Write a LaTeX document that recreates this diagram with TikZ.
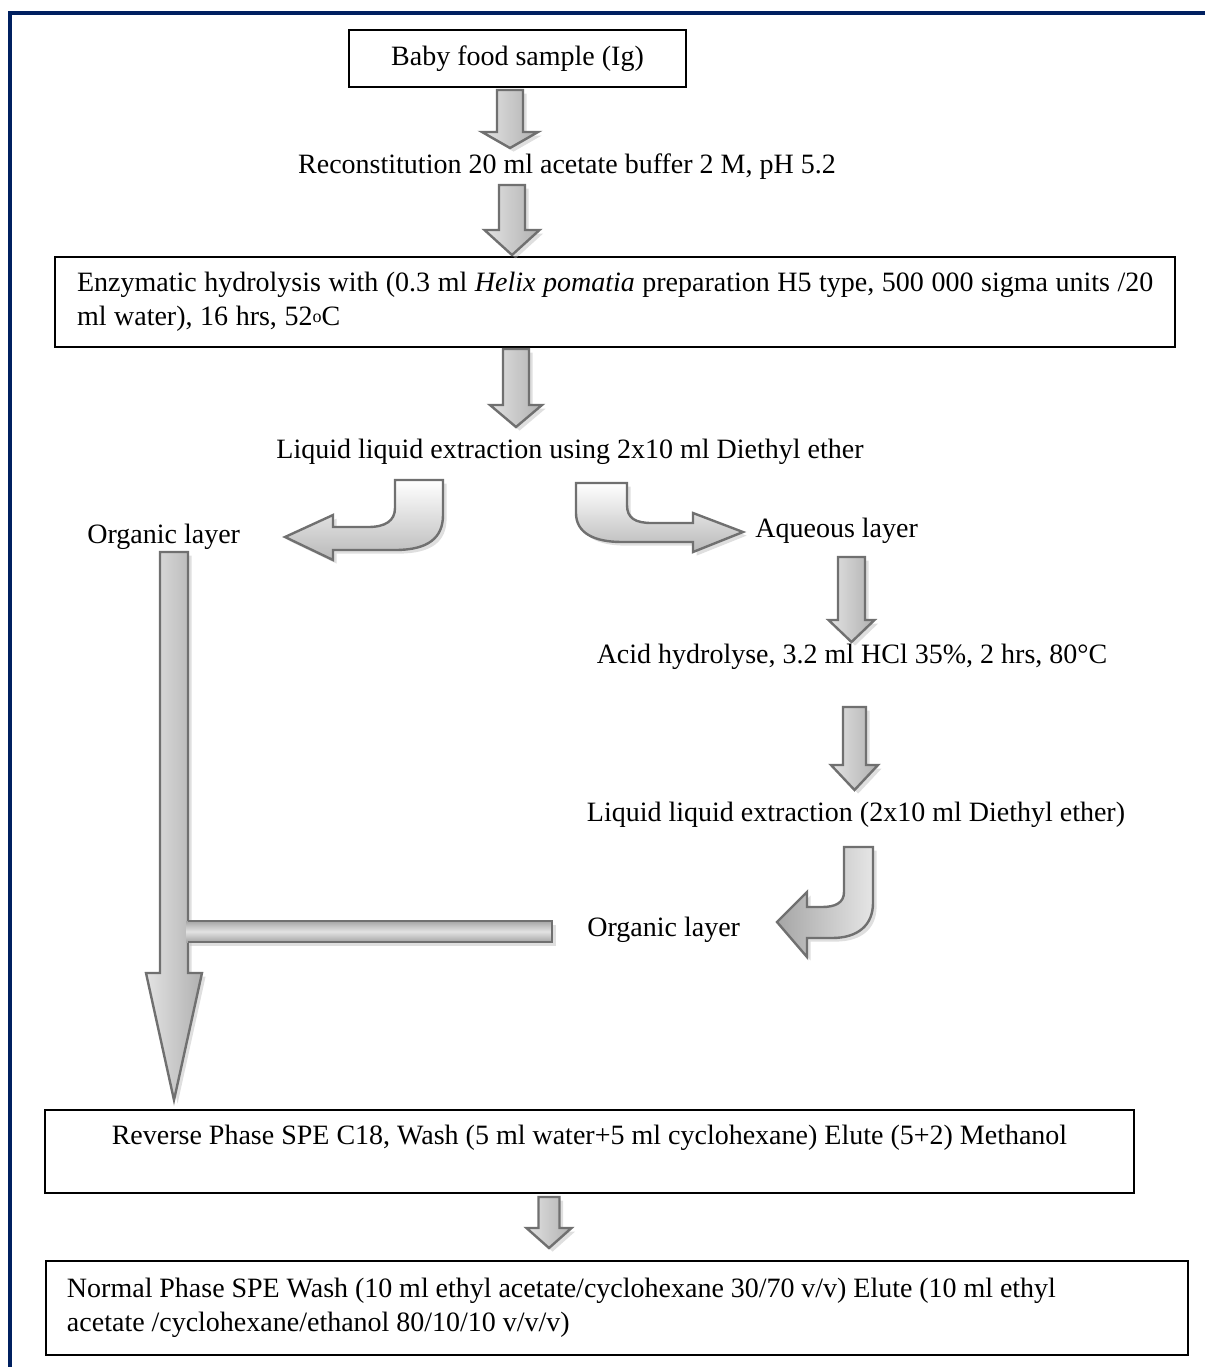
\documentclass[tikz,border=0pt]{standalone}
\usepackage{fontspec}
\setmainfont{Liberation Serif}
\usetikzlibrary{shadows}
\definecolor{framecol}{RGB}{0,32,96}
\definecolor{arrline}{RGB}{112,112,112}
\tikzset{
  boxnode/.style={draw=black, line width=1pt, rectangle, inner sep=0pt},
  lbl/.style={inner sep=0pt, font=\fontsize{14}{17}\selectfont},
  arrbase/.style={draw=arrline, line width=1.2pt, line join=miter,
    drop shadow={shadow xshift=1.8pt, shadow yshift=-1.8pt, fill=gray!55, opacity=0.45}},
  varr/.style={arrbase, left color=gray!22, right color=gray!62},
  harr/.style={arrbase, top color=gray!70, bottom color=gray!70, middle color=gray!22},
  carr/.style={arrbase, top color=white, bottom color=gray!55},
  carrdark/.style={arrbase, left color=gray!70, right color=gray!20},
  frameline/.style={draw=framecol, line width=1.6pt},
}
\newcommand\dnblock[6]{%
  \path[varr] ({#1-#5},#2) -- ({#1+#5},#2) -- ({#1+#5},#3) -- ({#1+#6},#3)
    -- (#1,#4) -- ({#1-#6},#3) -- ({#1-#5},#3) -- cycle;}
\begin{document}
\begin{tikzpicture}[x=0.5pt, y=-0.5pt]
\useasboundingbox (0,0) rectangle (1205,1367);
% frame
\draw[frameline] (10,1367) -- (10,13) -- (1205,13);

% boxes and labels
\node[boxnode, lbl, minimum width=168.5pt, minimum height=28.5pt] (baby) at (517.5,58.5) {Baby food sample (Ig)};
\node[lbl] (recon) at (567,167) {Reconstitution 20 ml acetate buffer 2 M, pH 5.2};
\node[boxnode, lbl, minimum width=560pt, minimum height=45pt, text width=538pt, inner xsep=11pt, align=left] (enz) at (615,302)
  {\spaceskip=0.27em plus 0.05em minus 0.02em
   \mbox{Enzymatic hydrolysis with (0.3 ml \textit{Helix pomatia} preparation H5 type, 500 000 sigma units /20}\\
   ml water), 16 hrs, 52\raisebox{0.12em}{\fontsize{9}{9}\selectfont o}C};
\node[lbl] (lle) at (570,452) {Liquid liquid extraction using 2x10 ml Diethyl ether};
\node[lbl, anchor=west] (org1) at (87,537) {Organic layer};
\node[lbl, anchor=west] (aq) at (755,531) {Aqueous layer};
\node[lbl] (acid) at (852,657) {Acid hydrolyse, 3.2 ml HCl 35\%, 2 hrs, 80°C};
\node[lbl] (lle2) at (856,815) {Liquid liquid extraction (2x10 ml Diethyl ether)};
\node[lbl, anchor=west] (org2) at (587,930) {Organic layer};
\node[boxnode, lbl, minimum width=544.5pt, minimum height=41.5pt, align=center] (rev) at (589.5,1151.5)
  {Reverse Phase SPE C18, Wash (5 ml water+5 ml cyclohexane) Elute (5+2) Methanol\\\mbox{}};
\node[boxnode, lbl, minimum width=571pt, minimum height=47pt, text width=550pt, inner xsep=10.5pt, align=left] (norm) at (617,1308)
  {\spaceskip=0.245em plus 0.05em minus 0.02em
   Normal Phase SPE Wash (10 ml ethyl acetate/cyclohexane 30/70 v/v) Elute (10 ml ethyl\\ acetate /cyclohexane/ethanol 80/10/10 v/v/v)};

% straight block arrows: cx, top, head base, tip, shaft half width, head half width
\dnblock{510}{90}{132}{148}{13}{28}
\dnblock{512}{185}{230}{255}{13}{27.5}
\dnblock{516}{349}{405}{427}{13}{26}
\dnblock{851.5}{557}{620}{642}{13.5}{23}
\dnblock{854.5}{707}{765}{790}{11.5}{23.5}
\dnblock{549}{1197}{1228}{1248}{10.5}{22.5}

% long arrow to reverse phase box with side bar
\dnblock{174}{552}{973}{1100}{14}{28}
\path[harr, draw=none] (186,921) rectangle (552,942);
\draw[arrline, line width=1.2pt] (188,921) -- (552,921) -- (552,942) -- (188,942);

% curved arrows
\path[carr] (443,480) -- (395,480) -- (395,508) .. controls (395,521) and (385,527) .. (368,527)
  -- (333,527) -- (333,515) -- (285,537) -- (333,560) -- (333,550) -- (395,550)
  .. controls (428,550) and (443,538) .. (443,515) -- cycle;
\path[carr] (576,483) -- (627,483) -- (627,505) .. controls (627,518) and (635,523) .. (652,523)
  -- (693,523) -- (693,513) -- (743,532) -- (693,552) -- (693,542) -- (622,542)
  .. controls (594,542) and (576,533) .. (576,513) -- cycle;
\path[carrdark] (873,847) -- (844,847) -- (844,892) .. controls (844,903) and (835,907) .. (822,907)
  -- (807,907) -- (807,892) -- (777,922) -- (807,957) -- (807,938) -- (832,938)
  .. controls (858,938) and (873,925) .. (873,903) -- cycle;
\end{tikzpicture}
\end{document}
